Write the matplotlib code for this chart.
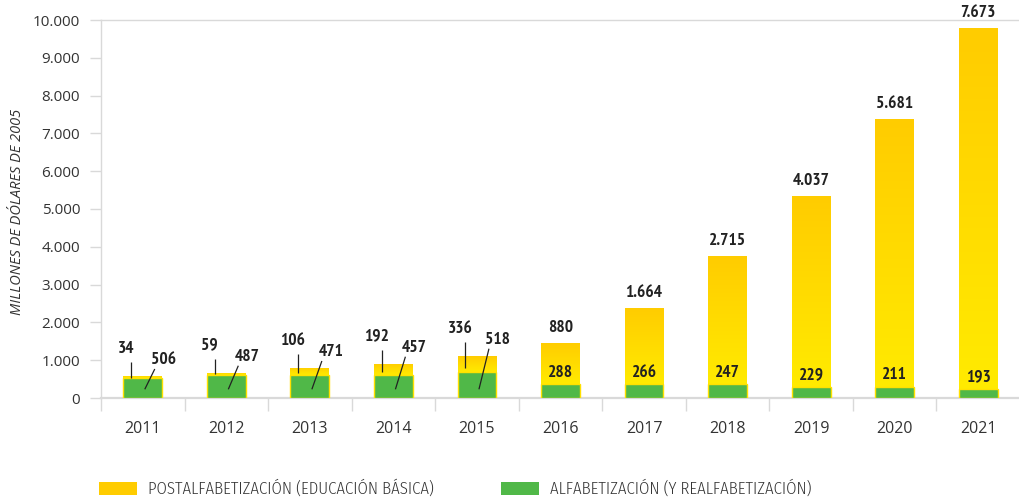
import matplotlib
matplotlib.use("Agg")
import matplotlib.pyplot as plt
import numpy as np
from matplotlib import font_manager
from matplotlib.colors import LinearSegmentedColormap
from matplotlib.patches import Rectangle

# ---------------- data ----------------
years = ["2011", "2012", "2013", "2014", "2015", "2016",
         "2017", "2018", "2019", "2020", "2021"]
# values printed on the chart (millions of 2005 dollars)
alfa_values = [506, 487, 471, 457, 518, 288, 266, 247, 229, 211, 193]
postalfa_values = [34, 59, 106, 192, 336, 880, 1664, 2715, 4037, 5681, 7673]
# bar heights as drawn against the axis in the original graphic
alfa_heights = [529, 608, 608, 608, 696, 370, 370, 370, 299, 299, 238]
postalfa_tops = [582, 669, 794, 907, 1119, 1455, 2381, 3757, 5344, 7381, 9788]
yticks = list(range(0, 10001, 1000))
series_names = ["POSTALFABETIZACIÓN (EDUCACIÓN BÁSICA)",
                "ALFABETIZACIÓN (Y REALFABETIZACIÓN)"]
ylabel = "MILLONES DE DÓLARES DE 2005"

# ---------------- fonts ----------------
names = {f.name for f in font_manager.fontManager.ttflist}


def pick(*cands):
    for c in cands:
        if c in names:
            return c
    return "DejaVu Sans"


regular = pick("Open Sans", "Noto Sans")
label_font = pick("PT Sans Narrow", "Fira Sans Condensed", "Roboto Condensed")
legend_font = pick("Fira Sans Condensed", "PT Sans Narrow", "Roboto Condensed")

YELLOW_TOP = (1.0, 0.80, 0.0)
YELLOW_BOT = (1.0, 0.92, 0.0)
GREEN = "#50B848"
GRID = "#D9D9D9"
TXT = "#333333"


def fmt(v):
    return f"{v:,}".replace(",", ".")


W, H = 1020, 499
fig = plt.figure(figsize=(W / 100, H / 100), dpi=100)
ax = fig.add_axes([101 / W, 101 / H, (W - 101) / W, 378 / H])

x = np.arange(len(years))
alfa = np.array(alfa_heights, dtype=float)
post = np.array(postalfa_tops, dtype=float) - alfa
bw = 0.465

gbars = ax.bar(x, alfa, width=bw, color=GREEN, edgecolor="#FFE000",
               linewidth=1.0, zorder=3)
ybars = ax.bar(x, post, bottom=alfa, width=bw, color=YELLOW_TOP,
               linewidth=0, zorder=2)

cmap = LinearSegmentedColormap.from_list("yg", [YELLOW_BOT, YELLOW_TOP])
grad = np.linspace(0, 1, 256).reshape(-1, 1)
for b in ybars:
    x0, y0 = b.get_x(), b.get_y()
    im = ax.imshow(grad, cmap=cmap, origin="lower", aspect="auto",
                   extent=[x0, x0 + b.get_width(), y0, y0 + b.get_height()],
                   zorder=2.5, interpolation="bilinear")
    im.set_clip_path(b)
ax.set_xlim(-0.5, -0.5 + (W - 101) / 84.0)
ax.set_ylim(0, 10000)

# ---------------- axes styling ----------------
for s in ["top", "left", "bottom"]:
    ax.spines[s].set_color(GRID)
    ax.spines[s].set_linewidth(1.0)
ax.spines["bottom"].set_linewidth(1.6)
ax.spines["right"].set_visible(False)

ax.set_yticks(yticks)
ax.set_yticklabels([fmt(v) for v in yticks], fontfamily=regular)
ax.tick_params(axis="y", direction="out", length=8, width=1, color=GRID,
               pad=7, labelsize=11, labelcolor=TXT)
ax.set_xticks(x)
ax.set_xticklabels(years, fontfamily=regular)
ax.tick_params(axis="x", which="major", length=0, pad=16.5, labelsize=11.5,
               labelcolor=TXT)
ax.set_xticks(np.arange(-0.5, len(years) + 0.5, 1), minor=True)
ax.tick_params(axis="x", which="minor", direction="out", length=9, width=1,
               color=GRID)

fig.text(18 / W, 1 - 212 / H, ylabel, rotation=90, ha="center", va="center",
         style="italic", fontsize=10.5, color=TXT, fontfamily=regular)


# ---------------- value labels ----------------
def shifted(xd, yd, dx, dy):
    p = ax.transData.transform((xd, yd))
    return ax.transData.inverted().transform((p[0] + dx, p[1] + dy))


lab_kw = dict(fontfamily=label_font, fontweight="bold", fontsize=12.5,
              color="#222222", ha="center", va="center", zorder=6)
for i in range(len(years)):
    top = alfa[i] + post[i]
    if i < 5:
        tx, ty = shifted(i, top, -17, 27)
        ax.text(tx, ty, fmt(postalfa_values[i]), **lab_kw)
        lx0, ly0 = shifted(i, top, -11.5, 14)
        lx1, ly1 = shifted(i, top - 0.75 * post[i], -11.5, 0)
        ax.plot([lx0, lx1], [ly0, ly1], color="#222222", lw=0.9, zorder=6,
                solid_capstyle="butt")
        gx, gy = shifted(i, top, 21, 16)
        ax.text(gx, gy, fmt(alfa_values[i]), **lab_kw)
        sx0, sy0 = shifted(i, top, 12, 7)
        sx1, sy1 = shifted(i, 0, 2, 8.7)
        ax.plot([sx0, sx1], [sy0, sy1], color="#222222", lw=0.9, zorder=6,
                solid_capstyle="butt")
    else:
        tx, ty = shifted(i, top, 0, 15)
        ax.text(tx, ty, fmt(postalfa_values[i]), clip_on=False, **lab_kw)
        gx, gy = shifted(i, alfa[i], 0, 11.5)
        ax.text(gx, gy, fmt(alfa_values[i]), **lab_kw)

# ---------------- legend ----------------
leg_kw = dict(ha="left", va="center", fontsize=12, color=TXT,
              fontfamily=legend_font, fontweight=300)
fig.add_artist(Rectangle((99 / W, 1 - 495 / H), 38 / W, 13.5 / H,
                         transform=fig.transFigure, color=YELLOW_TOP, lw=0))
fig.text(148 / W, 1 - 488 / H, series_names[0], **leg_kw)
fig.add_artist(Rectangle((501 / W, 1 - 495 / H), 38 / W, 13.5 / H,
                         transform=fig.transFigure, color=GREEN, lw=0))
fig.text(550 / W, 1 - 488 / H, series_names[1], **leg_kw)

fig.savefig("out.png", dpi=100)
